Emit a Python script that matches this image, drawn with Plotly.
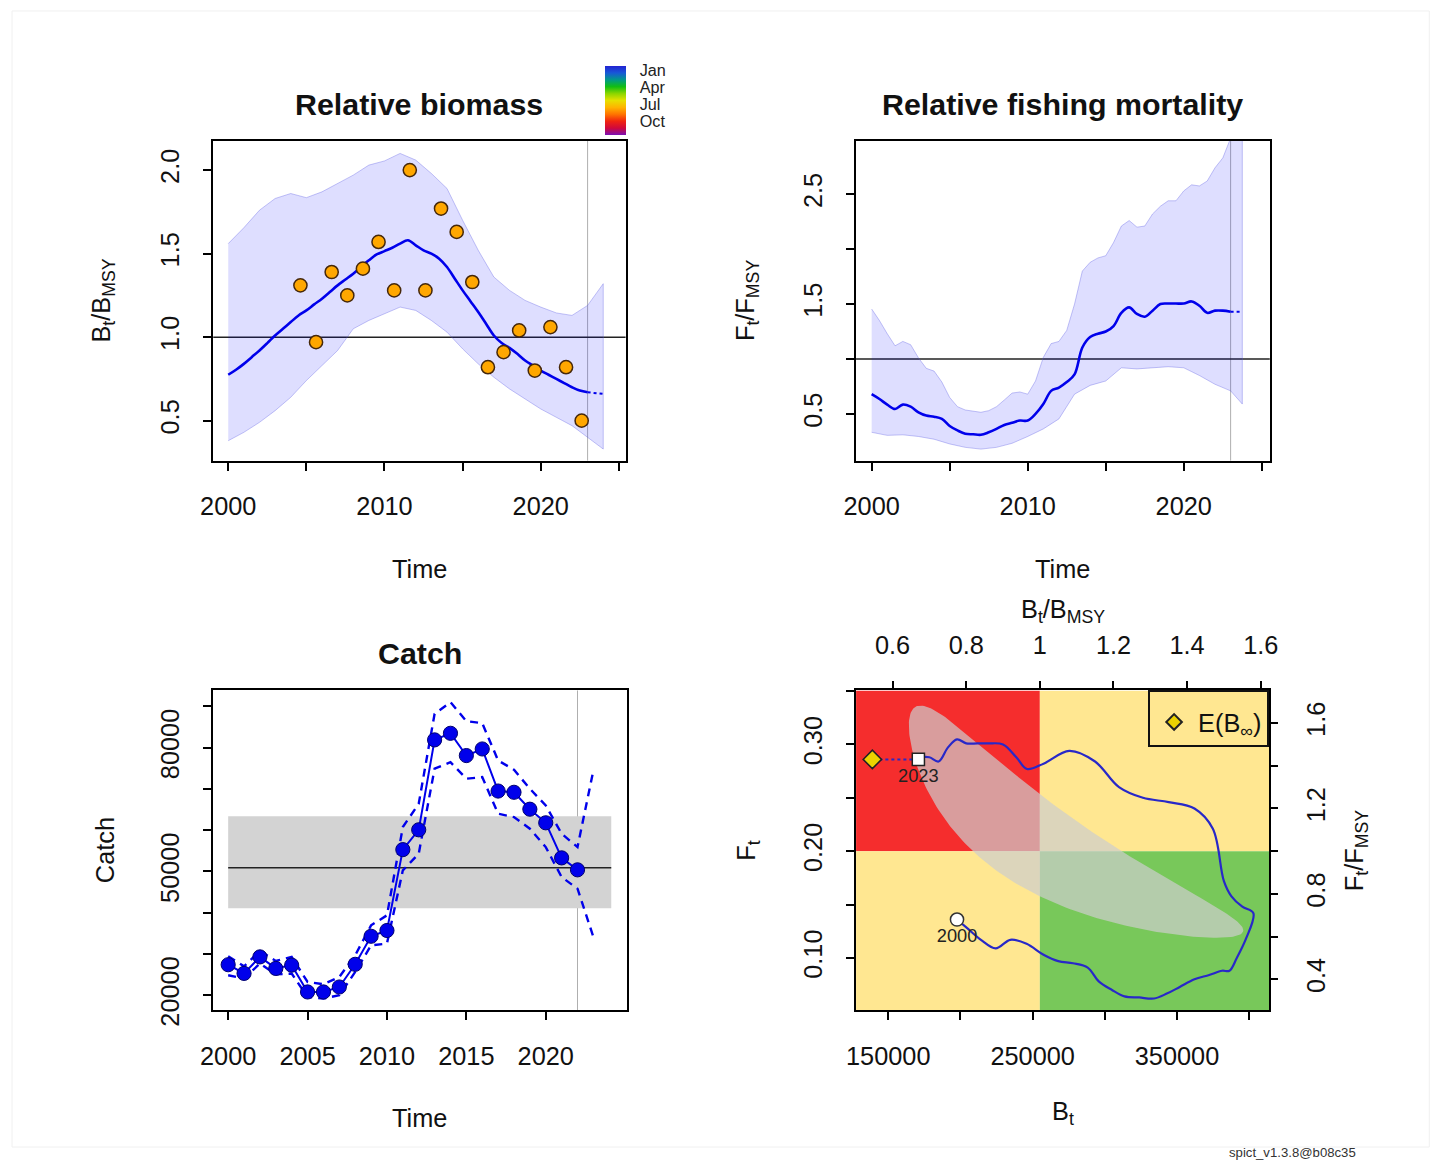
import numpy as np
import plotly.graph_objects as go

W, H = 1439, 1163
FONT = "Liberation Sans, Arial, sans-serif"

# ---------------- model estimates (half-yearly, 2000 - 2023) ----------------
est_time = np.arange(2000.0, 2023.01, 0.5)

bbmsy_est = [0.775, 0.805, 0.84, 0.88, 0.92, 0.964, 1.01, 1.05, 1.09, 1.13,
             1.16, 1.196, 1.23, 1.27, 1.31, 1.345, 1.38, 1.42, 1.46, 1.495,
             1.515, 1.535, 1.56, 1.58, 1.55, 1.52, 1.50, 1.47, 1.42, 1.35,
             1.28, 1.215, 1.15, 1.08, 1.01, 0.965, 0.936, 0.90, 0.86, 0.83,
             0.80, 0.775, 0.75, 0.725, 0.70, 0.68, 0.67]

ffmsy_est = [0.68, 0.636, 0.585, 0.545, 0.585, 0.566, 0.515, 0.485, 0.475, 0.455,
             0.39, 0.35, 0.32, 0.315, 0.31, 0.333, 0.364, 0.40, 0.42, 0.44,
             0.44, 0.50, 0.59, 0.71, 0.74, 0.79, 0.86, 1.105, 1.20, 1.23,
             1.25, 1.30, 1.42, 1.47, 1.41, 1.385, 1.44, 1.50, 1.505, 1.505,
             1.505, 1.524, 1.485, 1.42, 1.44, 1.44, 1.43]

# one-step predictions
pred_bb_time = [2023.0, 2024.0]
pred_bb = [0.67, 0.66]
pred_ff_time = [2023.0, 2023.75]
pred_ff = [1.43, 1.43]

# 95% CI of B/Bmsy (yearly)
bb_ci_time = list(range(2000, 2025))
bb_ci_upper = [1.56, 1.655, 1.76, 1.83, 1.86, 1.835, 1.87, 1.92, 1.97, 2.03,
               2.055, 2.10, 2.06, 1.98, 1.89, 1.70, 1.52, 1.36, 1.28, 1.22,
               1.18, 1.145, 1.13, 1.19, 1.32]
bb_ci_lower = [0.38, 0.43, 0.49, 0.56, 0.64, 0.74, 0.83, 0.92, 1.05, 1.10,
               1.14, 1.18, 1.16, 1.10, 1.03, 0.93, 0.84, 0.76, 0.69, 0.63,
               0.57, 0.52, 0.47, 0.40, 0.33]

# 95% CI of F/Fmsy
ff_up_time = list(est_time) + [2023.75]
ff_ci_upper = [1.455, 1.35, 1.23, 1.12, 1.16, 1.13, 1.01, 0.915, 0.89, 0.79,
               0.65, 0.566, 0.536, 0.525, 0.515, 0.53, 0.566, 0.627, 0.69, 0.70,
               0.68, 0.80, 1.015, 1.14, 1.16, 1.26, 1.50, 1.80, 1.88, 1.92,
               1.94, 2.06, 2.21, 2.26, 2.20, 2.21, 2.32, 2.39, 2.44, 2.44,
               2.53, 2.585, 2.575, 2.62, 2.74, 2.83, 3.01, 3.6]
ff_low_time = list(range(2000, 2024)) + [2023.75]
ff_ci_lower = [0.333, 0.305, 0.31, 0.295, 0.27, 0.227, 0.196, 0.18, 0.196, 0.233,
               0.295, 0.364, 0.455, 0.68, 0.76, 0.80, 0.92, 0.91, 0.92, 0.93,
               0.92, 0.85, 0.77, 0.71, 0.59]

# biomass index observations scaled to B/Bmsy
index_time = [2004.62, 2005.62, 2006.62, 2007.62, 2008.62, 2009.62, 2010.62,
              2011.62, 2012.62, 2013.62, 2014.62, 2015.62, 2016.62, 2017.62,
              2018.62, 2019.62, 2020.62, 2021.62, 2022.62]
index_bb = [1.31, 0.97, 1.39, 1.25, 1.41, 1.57, 1.28, 2.00, 1.28, 1.77,
            1.63, 1.33, 0.82, 0.91, 1.04, 0.80, 1.06, 0.82, 0.50]

# catch
catch_time = list(range(2000, 2023))
catch_est = [27400, 25300, 29300, 26500, 27300, 20800, 20800, 22000, 27500, 34300,
             35700, 55300, 60100, 81900, 83500, 78100, 79700, 69500, 69200, 65100,
             61800, 53300, 50400]
catch_ci_time = list(range(2000, 2024))
catch_upper = [29450, 27020, 30730, 28310, 29280, 23230, 22660, 24440, 29690, 36950,
               39380, 60770, 66420, 88220, 91040, 86440, 85950, 76920, 74660, 70060,
               66020, 59160, 55920, 74500]
catch_lower = [24840, 24040, 27680, 25090, 25250, 19590, 19190, 20000, 25650, 32110,
               32520, 50280, 54310, 74910, 76500, 72480, 72870, 64010, 63190, 60370,
               55920, 48650, 45840, 34120]
msy, msy_lo, msy_hi = 50900, 41100, 63400
msy_span = [2000.0, 2024.125]

# reference points
bmsy = 255000
fmsy = 0.2
e_binf_rel = 0.545
# joint confidence region of (Bmsy, Fmsy) on log scale
ell_half_logb, ell_half_logf, ell_rho = 0.44, 0.52, -0.89

last_obs_b, last_obs_f, last_catch = 2023.0, 2023.0, 2022.0

# season colours, January (top of the key) to December (bottom)
season_colors = ["#2222D2", "#1858D8", "#00998A", "#12BE12", "#8CD600", "#E6E000",
                 "#FFB400", "#FF7400", "#F02410", "#D0083C", "#7A10B4"]
season_labels = ["Jan", "Apr", "Jul", "Oct"]

# ---------------- page geometry helpers ----------------
S, OX, OY = 0.987, 11.0, -1.0


def px(x):
    return (x - OX) / S / W


def py(y):
    return 1 - (y - OY) / S / H


def fs(v):
    return v / S


n_sc = len(season_colors)
season_scale = [[1 - i / (n_sc - 1), c] for i, c in enumerate(season_colors)][::-1]

tickfont = dict(family=FONT, size=fs(25), color="#111")


def ax(rng, dom, major, labels, minor_vals, anchor, **kw):
    d = dict(range=rng, domain=dom, tickmode="array", tickvals=major, ticktext=labels,
             anchor=anchor, showline=True, linecolor="black", linewidth=2,
             mirror=True, ticks="outside", ticklen=8, tickwidth=1.5,
             tickcolor="black", showgrid=False, zeroline=False,
             tickfont=tickfont, fixedrange=True)
    if minor_vals:
        d["minor"] = dict(tickmode="array", tickvals=minor_vals, ticks="outside",
                          ticklen=8, tickwidth=1.5, tickcolor="black", showgrid=False)
    d.update(kw)
    return d


BAND_FILL = "rgba(0,0,255,0.13)"
BAND_EDGE = "rgba(90,90,225,0.35)"
BLUE = "rgb(0,0,235)"

fig = go.Figure()

# ---------------- panel 1: relative biomass ----------------
fig.add_trace(go.Scatter(
    x=bb_ci_time + bb_ci_time[::-1], y=bb_ci_upper + bb_ci_lower[::-1],
    fill="toself", fillcolor=BAND_FILL, line=dict(color=BAND_EDGE, width=1),
    mode="lines", xaxis="x", yaxis="y", showlegend=False))
fig.add_trace(go.Scatter(
    x=est_time, y=bbmsy_est, mode="lines", line=dict(color=BLUE, width=2.6, shape="spline"),
    xaxis="x", yaxis="y", showlegend=False))
fig.add_trace(go.Scatter(
    x=pred_bb_time, y=pred_bb, mode="lines", line=dict(color=BLUE, width=2, dash="dot"),
    xaxis="x", yaxis="y", showlegend=False))
fig.add_trace(go.Scatter(
    x=index_time, y=index_bb, mode="markers", xaxis="x", yaxis="y", showlegend=False,
    marker=dict(size=fs(13), color=[-(t % 1) for t in index_time], cmin=-1, cmax=0,
                colorscale=season_scale, line=dict(color="rgb(70,40,10)", width=1.5),
                showscale=True,
                colorbar=dict(x=px(604), xanchor="left", y=py(65), yanchor="top",
                              len=fs(68), lenmode="pixels", thickness=fs(21),
                              thicknessmode="pixels", xpad=0, ypad=0,
                              outlinewidth=0, ticks="outside", ticklen=11,
                              tickcolor="rgba(0,0,0,0)",
                              tickvals=[-0.06, -0.31, -0.55, -0.80],
                              ticktext=season_labels,
                              tickfont=dict(family=FONT, size=fs(16), color="#222")))))

# ---------------- panel 2: relative fishing mortality ----------------
fig.add_trace(go.Scatter(
    x=ff_up_time + ff_low_time[::-1], y=ff_ci_upper + ff_ci_lower[::-1],
    fill="toself", fillcolor=BAND_FILL, line=dict(color=BAND_EDGE, width=1),
    mode="lines", xaxis="x2", yaxis="y2", showlegend=False))
fig.add_trace(go.Scatter(
    x=est_time, y=ffmsy_est, mode="lines", line=dict(color=BLUE, width=2.6, shape="spline"),
    xaxis="x2", yaxis="y2", showlegend=False))
fig.add_trace(go.Scatter(
    x=pred_ff_time, y=pred_ff, mode="lines", line=dict(color=BLUE, width=2, dash="dot"),
    xaxis="x2", yaxis="y2", showlegend=False))

# ---------------- panel 3: catch ----------------
for ci in (catch_upper, catch_lower):
    fig.add_trace(go.Scatter(
        x=catch_ci_time, y=ci, mode="lines",
        line=dict(color=BLUE, width=2.4, dash="8px,6px"),
        xaxis="x3", yaxis="y3", showlegend=False))
fig.add_trace(go.Scatter(
    x=catch_time, y=catch_est, mode="lines+markers",
    line=dict(color=BLUE, width=2),
    marker=dict(size=fs(14), color=BLUE, line=dict(color="rgb(0,0,110)", width=1)),
    xaxis="x3", yaxis="y3", showlegend=False))

# ---------------- panel 4: kobe plot ----------------
theta = np.linspace(0, 2 * np.pi, 240)
ell_b = np.exp(np.log(bmsy) + ell_half_logb * np.cos(theta))
ell_f = np.exp(np.log(fmsy) + ell_half_logf *
               (ell_rho * np.cos(theta) + np.sqrt(1 - ell_rho ** 2) * np.sin(theta)))
fig.add_trace(go.Scatter(
    x=ell_b, y=ell_f, fill="toself", fillcolor="rgba(205,205,205,0.7)",
    line=dict(width=0), mode="lines", xaxis="x4", yaxis="y4", showlegend=False))

KOBE_LINE = "rgb(40,40,200)"
fig.add_trace(go.Scatter(
    x=bbmsy_est, y=ffmsy_est, mode="lines",
    line=dict(color=KOBE_LINE, width=2.2, shape="spline"),
    xaxis="x5", yaxis="y5", showlegend=False))
fig.add_trace(go.Scatter(
    x=[bbmsy_est[-1], e_binf_rel], y=[ffmsy_est[-1], ffmsy_est[-1]], mode="lines",
    line=dict(color=KOBE_LINE, width=2, dash="dot"),
    xaxis="x5", yaxis="y5", showlegend=False))
fig.add_trace(go.Scatter(
    x=[bbmsy_est[0]], y=[ffmsy_est[0]], mode="markers+text", text=["2000"],
    textposition="bottom center", textfont=dict(family=FONT, size=fs(18), color="#222"),
    marker=dict(symbol="circle", size=fs(13), color="white", line=dict(color="#333", width=1.5)),
    xaxis="x5", yaxis="y5", showlegend=False))
fig.add_trace(go.Scatter(
    x=[bbmsy_est[-1]], y=[ffmsy_est[-1]], mode="markers+text", text=["2023"],
    textposition="bottom center", textfont=dict(family=FONT, size=fs(18), color="#222"),
    marker=dict(symbol="square", size=fs(12), color="white", line=dict(color="#222", width=1.5)),
    xaxis="x5", yaxis="y5", showlegend=False))
fig.add_trace(go.Scatter(
    x=[e_binf_rel], y=[ffmsy_est[-1]], mode="markers", name="E(B<sub>∞</sub>)",
    marker=dict(symbol="diamond", size=fs(14), color="rgb(235,210,0)",
                line=dict(color="#222", width=1.5)),
    xaxis="x5", yaxis="y5", showlegend=True))

# ---------------- axes ----------------
d1x, d1y = [px(211.7), px(625)], [py(460), py(140)]
d2x = [px(856), px(1270.7)]
d3x, d3y = [px(211.7), px(626)], [py(1010), py(690)]
d4x = [px(856), px(1270)]

b_rng = [127677, 413793]
f_rng = [0.05103, 0.35056]

XS = dict(ticklabelstandoff=14)
YS = dict(tickangle=-90, ticklabelstandoff=14)

layout_axes = dict(
    xaxis=ax([1999.04, 2025.43], d1x, [2000, 2010, 2020], ["2000", "2010", "2020"],
             [2005, 2015, 2025], "y", **XS),
    yaxis=ax([0.2606, 2.175], d1y, [0.5, 1.0, 1.5, 2.0], ["0.5", "1.0", "1.5", "2.0"],
             None, "x", **YS),
    xaxis2=ax([1999.0, 2025.51], d2x, [2000, 2010, 2020], ["2000", "2010", "2020"],
              [2005, 2015, 2025], "y2", **XS),
    yaxis2=ax([0.075, 2.985], d1y, [0.5, 1.5, 2.5], ["0.5", "1.5", "2.5"],
              [1.0, 2.0], "x2", **YS),
    xaxis3=ax([1999.06, 2025.09], d3x, [2000, 2005, 2010, 2015, 2020],
              ["2000", "2005", "2010", "2015", "2020"], None, "y3", **XS),
    yaxis3=ax([16370, 93880], d3y, [20000, 50000, 80000], ["20000", "50000", "80000"],
              [30000, 40000, 60000, 70000, 90000], "x3", **YS),
    xaxis4=ax(b_rng, d4x, [150000, 250000, 350000], ["150000", "250000", "350000"],
              [200000, 300000, 400000], "y4", **XS),
    yaxis4=ax(f_rng, d3y, [0.10, 0.20, 0.30], ["0.10", "0.20", "0.30"],
              [0.15, 0.25, 0.35], "x4", **YS),
    xaxis5=ax([b_rng[0] / bmsy, b_rng[1] / bmsy], d4x, [0.6, 0.8, 1.0, 1.2, 1.4, 1.6],
              ["0.6", "0.8", "1", "1.2", "1.4", "1.6"], None, "y4",
              overlaying="x4", side="top", showline=False, mirror=False,
              ticklabelstandoff=17),
    yaxis5=ax([f_rng[0] / fmsy, f_rng[1] / fmsy], d3y, [0.4, 0.8, 1.2, 1.6],
              ["0.4", "0.8", "1.2", "1.6"], [0.6, 1.0, 1.4], "x4",
              overlaying="y4", side="right", showline=False, mirror=False,
              tickangle=-90, ticklabelstandoff=17),
)

# ---------------- reference lines, bands, kobe zones ----------------
shapes = []
grey = dict(color="rgb(175,175,175)", width=1)
for xr, yr, t in (("x", "y", last_obs_b), ("x2", "y2", last_obs_f), ("x3", "y3", last_catch)):
    shapes.append(dict(type="line", xref=xr, yref=f"{yr} domain", x0=t, x1=t, y0=0, y1=1,
                       line=grey, layer="below"))
for xr, yr in (("x", "y"), ("x2", "y2")):
    shapes.append(dict(type="line", xref=f"{xr} domain", yref=yr, x0=0, x1=1, y0=1, y1=1,
                       line=dict(color="#222", width=1.5), layer="below"))
shapes.append(dict(type="rect", xref="x3", yref="y3", x0=msy_span[0], x1=msy_span[1],
                   y0=msy_lo, y1=msy_hi, fillcolor="rgb(211,211,211)",
                   line=dict(width=0), layer="below"))
shapes.append(dict(type="line", xref="x3", yref="y3", x0=msy_span[0], x1=msy_span[1],
                   y0=msy, y1=msy, line=dict(color="#222", width=1.5), layer="below"))

zones = [
    (b_rng[0], bmsy, fmsy, f_rng[1], "rgb(245,45,45)"),
    (bmsy, b_rng[1], fmsy, f_rng[1], "rgb(255,231,145)"),
    (b_rng[0], bmsy, f_rng[0], fmsy, "rgb(255,231,145)"),
    (bmsy, b_rng[1], f_rng[0], fmsy, "rgb(120,200,90)"),
]
for x0, x1, y0, y1, col in zones:
    shapes.append(dict(type="rect", xref="x4", yref="y4", x0=x0, x1=x1, y0=y0, y1=y1,
                       fillcolor=col, line=dict(width=0), layer="below"))

shapes.append(dict(type="rect", xref="paper", yref="paper", x0=px(10), x1=min(px(1431), 0.9995),
                   y0=0, y1=py(10), line=dict(color="rgb(240,240,240)", width=1),
                   layer="below"))

# ---------------- titles and axis labels ----------------
def label(text, x, y, size=25, angle=0, bold=False, color="#111"):
    if bold:
        text = f"<b>{text}</b>"
    return dict(text=text, x=px(x), y=py(y), xref="paper", yref="paper",
                showarrow=False, textangle=angle, xanchor="center", yanchor="middle",
                font=dict(family=FONT, size=fs(size), color=color))


annotations = [
    label("Relative biomass", 418.3, 103, size=30, bold=True),
    label("Relative fishing mortality", 1063.3, 103, size=30, bold=True),
    label("Catch", 418.8, 653, size=30, bold=True),
    label("Time", 418.3, 568),
    label("Time", 1063.3, 568),
    label("Time", 418.8, 1118),
    label("B<sub>t</sub>/B<sub>MSY</sub>", 101, 300, angle=-90),
    label("F<sub>t</sub>/F<sub>MSY</sub>", 746, 300, angle=-90),
    label("Catch", 104, 850, angle=-90),
    label("F<sub>t</sub>", 748, 850, angle=-90),
    label("F<sub>t</sub>/F<sub>MSY</sub>", 1357, 850, angle=-90),
    label("B<sub>t</sub>/B<sub>MSY</sub>", 1063, 610),
    label("B<sub>t</sub>", 1063, 1113),
    label("spict_v1.3.8@b08c35", 1293, 1152, size=13, color="#333"),
]

fig.update_layout(
    width=W, height=H, margin=dict(l=0, r=0, t=0, b=0),
    paper_bgcolor="white", plot_bgcolor="rgba(0,0,0,0)",
    font=dict(family=FONT, color="#111"),
    hovermode=False,
    shapes=shapes, annotations=annotations,
    legend=dict(x=px(1270), xanchor="right", y=py(690), yanchor="top",
                bordercolor="#111", borderwidth=2, bgcolor="rgba(0,0,0,0)",
                font=dict(family=FONT, size=fs(25), color="#111"), itemsizing="constant",
                title=dict(text=" ", font=dict(family=FONT, size=5)),
                itemwidth=38),
    **layout_axes,
)

fig.write_html(
    "out.html",
    config={"responsive": False, "displayModeBar": False},
    post_script="document.body.style.margin='0px';document.body.style.overflow='hidden';",
)
